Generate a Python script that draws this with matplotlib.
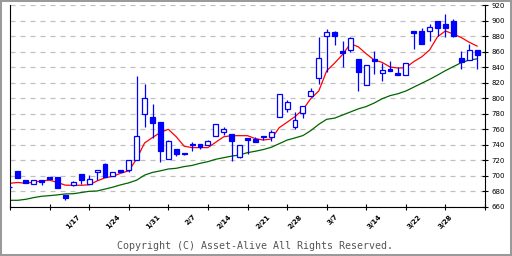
import matplotlib
matplotlib.use('Agg')
import matplotlib.pyplot as plt
import matplotlib.transforms as mtransforms
from matplotlib.patches import Rectangle
import numpy as np

# daily candles (index 0 = first visible day)
opens = [685, 706, 694, 689, 694, 698, 698, 675, 688, 702,
         689.5, 704, 715, 700, 707, 707, 720, 780, 775.5, 769,
         721, 734, 729, 740.5, 740.7, 740, 751, 756, 753, 724,
         748.3, 746.7, 749.3, 749.3, 776, 785.4, 763, 780.3, 803, 825.4,
         880, 884.7, 860.7, 862, 850, 817, 850.3, 832.3, 837, 832.3,
         829.3, 886, 886.5, 886.5, 900, 895, 899.4, 851, 849, 862]
highs = [686, 706, 694, 694, 694, 698, 698, 675, 692.5, 702,
         701, 707, 716, 705, 707, 720, 828, 818, 792, 769,
         746, 734, 729, 743, 740.7, 746, 767, 763, 753.5, 740,
         748.3, 749.7, 751, 758.5, 805, 797.5, 782, 789.7, 812.5, 879,
         888.6, 886.5, 873.6, 879, 850, 842.5, 861, 845, 847.8, 839.6,
         845.2, 886, 890, 895.5, 900, 908.4, 901.5, 861, 870, 862]
lows = [684, 697, 690, 689, 688, 696, 684, 668, 686, 689.5,
        689.5, 694, 698.5, 700, 704, 705, 720, 763, 749, 718,
        721, 725, 726.5, 731, 734, 740, 751, 752, 719, 722.6,
        728, 743.7, 746, 745, 775, 782.4, 759.6, 774, 803, 818,
        834, 869, 840.5, 860, 809.5, 817, 831, 822, 834.4, 829.3,
        829.3, 863, 869.3, 874, 880, 879, 879, 837.4, 849, 837.4]
closes = [685, 697, 690, 694, 692, 696, 684, 671, 691, 694,
          695, 707, 698.5, 705, 704, 720, 751, 800, 768, 732,
          745, 728, 728, 739, 737, 745, 767, 759.5, 745, 740,
          745.6, 743.7, 751, 756.6, 805, 794.4, 771.7, 789.7, 809, 851,
          884.7, 880.4, 858.5, 877, 833, 842.5, 847.3, 836.2, 834.4, 829.3,
          845.2, 884.3, 869.3, 891.2, 890, 890.3, 880.4, 847, 862, 855.5]

# moving average lines (red = short, green = long)
ma_short = [690, 691, 690, 691.5, 693, 694, 691, 687.5, 687.4, 687.4,
            688, 693, 697, 699, 703, 706, 721.5, 742, 749, 755.6,
            759.6, 750, 737.8, 736, 736, 736, 743, 750, 751.4, 751.4,
            751.4, 747.5, 745.8, 747, 761.7, 768.7, 776, 785, 799.3, 809,
            835, 845, 856, 870, 866, 857, 849, 846, 840, 838.7,
            839, 847, 853, 862, 879, 886.5, 882.6, 878, 872, 867]
ma_long = [668, 668, 669.3, 671.5, 673.2, 674, 675, 676.2, 676.5, 678,
           679.6, 680, 682.5, 685, 688, 690.5, 694, 700.5, 704, 706,
           708.4, 709.3, 711.5, 713, 715.7, 717.9, 721, 723, 725, 726.5,
           729.5, 731.3, 733.5, 736.4, 741, 745.7, 748.5, 751.5, 758, 766,
           772.5, 774, 778, 782, 786, 789, 793.5, 799, 803, 805.5,
           809, 814, 819, 824, 829.5, 835.3, 840.5, 845.6, 849, 850.5]

# week labels and the day index each one belongs to
week_labels = ['1/17', '1/24', '1/31', '2/7', '2/14', '2/21', '2/28',
               '3/7', '3/14', '3/22', '3/28']
week_day = [7, 12, 17, 22, 26, 31, 35, 40, 45, 50, 54]

blue = '#0000ff'

fig = plt.figure(figsize=(5.12, 2.56), dpi=100)
fig.patches.append(Rectangle((0, 0), 1, 1, transform=fig.transFigure,
                             fill=False, edgecolor='#9a9a9a', linewidth=2.9))
ax = fig.add_axes([10/512, 49.5/256, 475/512, 201.5/256])

o = np.array(opens)
h = np.array(highs)
l = np.array(lows)
c = np.array(closes)
x = np.arange(len(o))

ax.plot(x, ma_long, color='#006400', linewidth=0.9, zorder=2)
ax.plot(x, ma_short, color='#ff0000', linewidth=0.9, zorder=2)

ax.vlines(x, l, h, color=blue, linewidth=0.9, zorder=3)
up = c >= o
bottom = np.minimum(o, c)
height = np.maximum(np.abs(c - o), 0.6)
ax.bar(x[up], height[up], bottom=bottom[up], width=0.62,
       facecolor='white', edgecolor=blue, linewidth=0.9, zorder=4)
ax.bar(x[~up], height[~up], bottom=bottom[~up], width=0.62,
       facecolor=blue, edgecolor=blue, linewidth=0.9, zorder=4)

ax.set_xlim(0, 60)
ax.set_ylim(660, 920)
ax.set_xticks(range(0, 61, 5))
ax.set_xticklabels([])
ax.yaxis.tick_right()
ax.set_yticks(range(660, 921, 20))
ax.tick_params(axis='x', direction='inout', length=5, width=0.8)
ax.tick_params(axis='y', direction='inout', length=5, width=0.8,
               labelsize=5, pad=2)
ax.yaxis.grid(True, color='#c0c0c0', linestyle=(0, (4, 4)), linewidth=0.9)
ax.set_axisbelow(True)
ax.spines['top'].set_visible(False)
for s in ['left', 'right', 'bottom']:
    ax.spines[s].set_linewidth(0.8)

trans = mtransforms.blended_transform_factory(ax.transData, ax.transAxes)
for d, lab in zip(week_day, week_labels):
    ax.text(d, -0.035, lab, transform=trans, rotation=45, ha='left', va='top',
            fontsize=5, fontweight='bold')

fig.text(255/512, 1 - 246/256, 'Copyright (C) Asset-Alive All Rights Reserved.',
         ha='center', va='center', family='DejaVu Sans Mono', fontsize=7.2,
         color='#555555')

fig.savefig('out.png', dpi=100)
